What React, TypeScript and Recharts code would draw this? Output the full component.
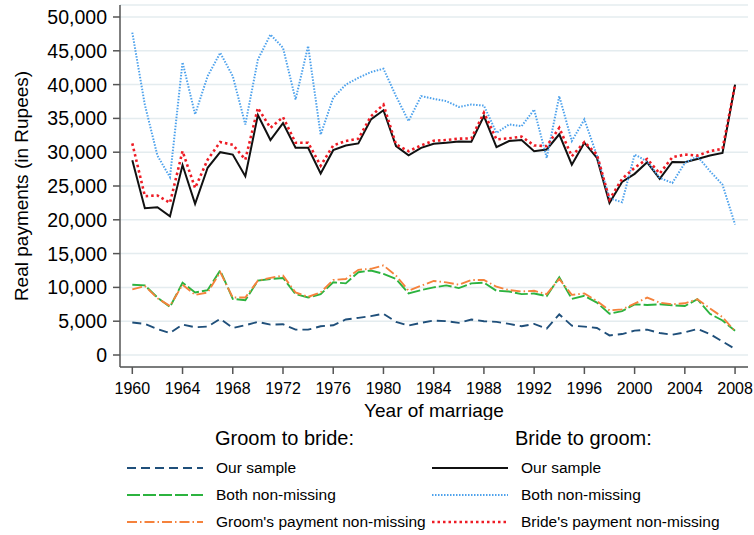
import { LineChart, Line, XAxis, YAxis, CartesianGrid } from 'recharts';

const font = '"Liberation Sans", Arial, Helvetica, sans-serif';

const years = [
  1960, 1961, 1962, 1963, 1964, 1965, 1966, 1967, 1968, 1969, 1970, 1971, 1972,
  1973, 1974, 1975, 1976, 1977, 1978, 1979, 1980, 1981, 1982, 1983, 1984,
  1985, 1986, 1987, 1988, 1989, 1990, 1991, 1992, 1993, 1994, 1995, 1996,
  1997, 1998, 1999, 2000, 2001, 2002, 2003, 2004, 2005, 2006, 2007, 2008,
];

// groom to bride
const g2bOur = [
  4800, 4600, 3850, 3250, 4500, 4100, 4200, 5350, 4000, 4400, 4900, 4500, 4550,
  3750, 3750, 4250, 4400, 5250, 5500, 5750, 6100, 4900, 4350, 4750, 5100,
  5000, 4750, 5250, 5000, 4900, 4600, 4250, 4600, 3900, 6000, 4350, 4200,
  4000, 2900, 3100, 3600, 3750, 3250, 3000, 3350, 3850, 3100, 2000, 900,
];
const g2bBoth = [
  10400, 10300, 8500, 7100, 10700, 9250, 9600, 12500, 8300, 8100, 11000, 11250, 11400,
  9000, 8500, 9000, 10750, 10600, 12250, 12500, 12000, 11250, 9100, 9600, 10000,
  10300, 9900, 10600, 10700, 9500, 9400, 9000, 9100, 8700, 11500, 8300, 8750,
  7750, 6100, 6500, 7500, 7400, 7500, 7350, 7250, 8250, 6100, 5100, 3600,
];
const g2bGroom = [
  9700, 10200, 8400, 7250, 10400, 8900, 9250, 12250, 8500, 8500, 11000, 11400, 11750,
  9250, 8600, 9250, 11100, 11250, 12600, 12750, 13250, 11750, 9500, 10250, 10950,
  10750, 10400, 11100, 11100, 10100, 9600, 9400, 9500, 9000, 11250, 8900, 9100,
  8000, 6600, 6750, 7600, 8500, 7750, 7500, 7650, 8250, 6900, 5600, 3500,
];

// bride to groom
const b2gOur = [
  28800, 21700, 21850, 20500, 28100, 22350, 27700, 30000, 29650, 26450, 35500, 31800, 34300,
  30650, 30650, 26850, 30300, 31000, 31300, 34850, 36200, 30900, 29550, 30650, 31250,
  31400, 31600, 31550, 35350, 30750, 31650, 31800, 30150, 30400, 32650, 28150, 31400,
  29150, 22500, 25600, 26800, 28500, 26050, 28550, 28500, 29000, 29500, 29900, 40000,
];
const b2gBoth = [
  47700, 37000, 29500, 26300, 43300, 35600, 41250, 44700, 41250, 34100, 43700, 47400, 45450,
  37800, 45700, 32600, 38050, 40000, 41000, 41850, 42350, 38300, 34600, 38300, 37900,
  37550, 36700, 37050, 36900, 32850, 34100, 33850, 36300, 29150, 38300, 31650, 34850,
  29500, 23200, 22600, 29650, 28650, 26200, 25450, 28400, 29400, 27200, 25200, 19300,
];
const b2gBride = [
  31300, 23500, 23600, 22500, 30150, 24700, 28900, 31500, 31100, 28900, 36550, 33600, 35200,
  31400, 31400, 28000, 31000, 31650, 32000, 35300, 37050, 31150, 30150, 31000, 31700,
  31800, 32000, 32050, 35850, 31900, 32050, 32300, 31000, 30900, 33600, 29400, 31500,
  29650, 23000, 26050, 27700, 29000, 26850, 29250, 29650, 29500, 30150, 30500, 40000,
];

const xTicks = [1960, 1964, 1968, 1972, 1976, 1980, 1984, 1988, 1992, 1996, 2000, 2004, 2008];
const yTicks = [0, 5000, 10000, 15000, 20000, 25000, 30000, 35000, 40000, 45000, 50000];

const groomSeries = [
  { key: 'g2bOur', name: 'Our sample', values: g2bOur, color: '#1f4f7a', dash: '9 5', width: 1.9 },
  { key: 'g2bBoth', name: 'Both non-missing', values: g2bBoth, color: '#2cb33f', dash: '13 3', width: 1.9 },
  { key: 'g2bGroom', name: "Groom's payment non-missing", values: g2bGroom, color: '#f5823c', dash: '10 3 1.5 3', width: 1.9 },
];
const brideSeries = [
  { key: 'b2gOur', name: 'Our sample', values: b2gOur, color: '#111111', dash: undefined, width: 2 },
  { key: 'b2gBoth', name: 'Both non-missing', values: b2gBoth, color: '#4ea2ec', dash: '1.5 1.5', width: 2 },
  { key: 'b2gBride', name: "Bride's payment non-missing", values: b2gBride, color: '#ee1c25', dash: '2.5 3', width: 2.6 },
];

const data = years.map((year, i) => {
  const row: Record<string, number> = { year };
  [...groomSeries, ...brideSeries].forEach((s) => {
    row[s.key] = s.values[i];
  });
  return row;
});

function LegendRow({ s, x, y }: { s: any; x: number; y: number }) {
  return (
    <div style={{ position: 'absolute', left: x, top: y - 10, height: 20, display: 'flex', alignItems: 'center' }}>
      <svg width={76} height={10}>
        <line x1={0} y1={5} x2={76} y2={5} stroke={s.color} strokeWidth={s.width} strokeDasharray={s.dash} />
      </svg>
      <span style={{ marginLeft: 13, fontSize: 15.5, color: '#000', whiteSpace: 'nowrap' }}>{s.name}</span>
    </div>
  );
}

export default function App() {
  return (
    <div style={{ position: 'absolute', left: 0, top: 0, width: 754, height: 535, background: '#fff', fontFamily: font }}>
      <LineChart width={754} height={420} data={data} margin={{ top: 5, right: 6, bottom: 0, left: 0 }}>
        <CartesianGrid vertical={false} stroke="#e4ecef" strokeWidth={1.5} />
        <XAxis
          dataKey="year"
          type="number"
          domain={[1959.02, 2009.03]}
          ticks={xTicks}
          interval={0}
          height={53}
          tickSize={7}
          tickMargin={9}
          stroke="#555"
          strokeWidth={1.5}
          tick={{ fill: '#000', fontSize: 16, fontFamily: font }}
          label={{ value: 'Year of marriage', position: 'insideBottom', offset: 3, fill: '#000', fontSize: 19, fontFamily: font }}
        />
        <YAxis
          type="number"
          domain={[-1775, 51775]}
          ticks={yTicks}
          interval={0}
          width={120}
          tickSize={7}
          tickMargin={6}
          stroke="#555"
          strokeWidth={1.5}
          tick={{ fill: '#000', fontSize: 19.5, fontFamily: font }}
          tickFormatter={(v: number) => v.toLocaleString('en-US')}
          label={{
            value: 'Real payments (in Rupees)',
            angle: -90,
            position: 'insideLeft',
            offset: 21,
            fill: '#000',
            fontSize: 19,
            fontFamily: font,
            style: { textAnchor: 'middle' },
          }}
        />
        {[...groomSeries, ...brideSeries].map((s) => (
          <Line
            key={s.key}
            dataKey={s.key}
            stroke={s.color}
            strokeWidth={s.width}
            strokeDasharray={s.dash}
            dot={false}
            activeDot={false}
            isAnimationActive={false}
          />
        ))}
      </LineChart>

      <div style={{ position: 'absolute', left: 215, top: 427, fontSize: 20, color: '#000' }}>Groom to bride:</div>
      <div style={{ position: 'absolute', left: 515, top: 427, fontSize: 20, color: '#000' }}>Bride to groom:</div>
      {groomSeries.map((s, i) => (
        <LegendRow key={s.key} s={s} x={127} y={468 + i * 27} />
      ))}
      {brideSeries.map((s, i) => (
        <LegendRow key={s.key} s={s} x={432} y={468 + i * 27} />
      ))}
    </div>
  );
}
